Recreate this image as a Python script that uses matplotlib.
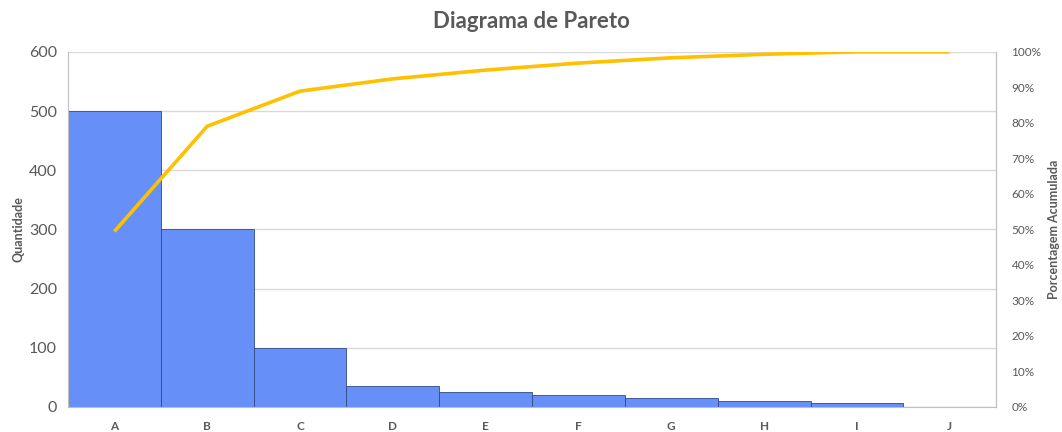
import matplotlib
matplotlib.use("Agg")
import matplotlib.pyplot as plt
import numpy as np
from matplotlib.ticker import PercentFormatter

categories = ["A", "B", "C", "D", "E", "F", "G", "H", "I", "J"]
quantities = [500, 300, 100, 35, 25, 20, 15, 10, 7, 0]

cumulative = np.cumsum(quantities) / np.sum(quantities)

plt.rcParams["font.family"] = ["Lato", "DejaVu Sans"]
text_gray = "#595959"
grid_gray = "#D9D9D9"

fig = plt.figure(figsize=(10.62, 4.32), dpi=100)
ax = fig.add_axes([0.064, 0.058, 0.874, 0.822])
x = np.arange(len(categories))

ax.bar(x, quantities, width=1.0, color="#6690F8", edgecolor="#2F4A8A", linewidth=0.6, zorder=2)
ax.set_xlim(-0.5, len(categories) - 0.5)
ax.set_ylim(0, 600)
ax.set_yticks(range(0, 601, 100))
ax.set_xticks(x)
ax.set_xticklabels(categories, fontsize=8.5, fontweight="bold", color=text_gray)
ax.tick_params(axis="y", labelsize=11.5, colors=text_gray, length=0, pad=8)
ax.tick_params(axis="x", length=0, pad=10)
ax.yaxis.grid(True, color=grid_gray, linewidth=1, zorder=0)
ax.set_axisbelow(True)
ax.set_ylabel("Quantidade", fontsize=9, fontweight="bold", color=text_gray)
ax.yaxis.set_label_coords(-0.047, 0.5)
for side in ["left", "bottom", "right"]:
    ax.spines[side].set_color("#BFBFBF")
ax.spines["top"].set_visible(False)

ax2 = ax.twinx()
ax2.plot(x, cumulative, color="#FFC000", linewidth=2.6, solid_capstyle="butt", zorder=3)
ax2.set_ylim(0, 1)
ax2.set_yticks(np.linspace(0, 1, 11))
ax2.yaxis.set_major_formatter(PercentFormatter(1.0, decimals=0))
ax2.tick_params(axis="y", labelsize=8.5, colors=text_gray, length=0, pad=11)
ax2.set_ylabel("Porcentagem Acumulada", fontsize=9, fontweight="bold", color=text_gray)
ax2.yaxis.set_label_coords(1.056, 0.5)
for side in ["left", "bottom", "top"]:
    ax2.spines[side].set_visible(False)
ax2.spines["right"].set_color("#BFBFBF")

fig.suptitle("Diagrama de Pareto", fontsize=16, fontweight="bold", color=text_gray, y=0.975)

fig.savefig("out.png", dpi=100)
